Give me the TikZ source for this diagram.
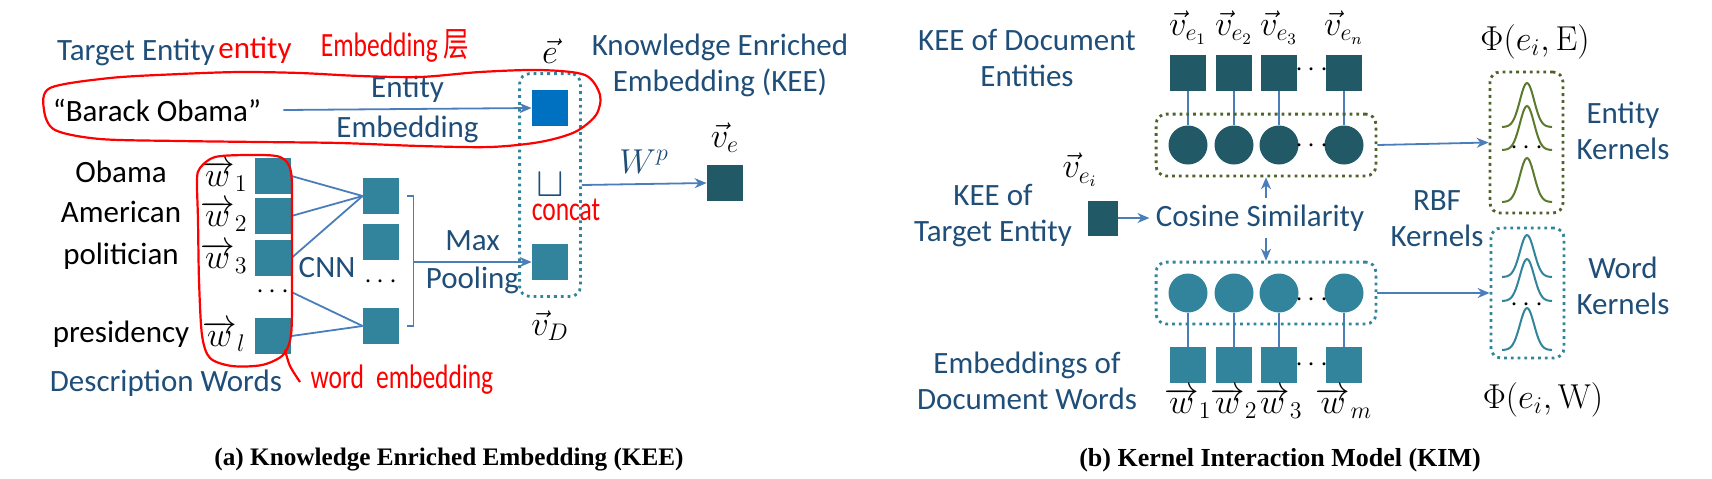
\documentclass[tikz,border=0pt]{standalone}
\usepackage[no-math]{fontspec}
\setmainfont{Carlito}
\newfontfamily\capfont{Liberation Serif}
\newfontfamily\cjk{Noto Sans CJK SC}
\usetikzlibrary{positioning,fit,arrows.meta}

\definecolor{txtblue}{HTML}{1F4E79}
\definecolor{lnblue}{HTML}{4A7EBB}
\definecolor{wordteal}{HTML}{31849B}
\definecolor{entteal}{HTML}{215967}
\definecolor{entblue}{HTML}{0070C0}
\definecolor{kolive}{HTML}{4F6228}
\definecolor{kcurve}{HTML}{5B7A2E}
\newcommand{\wvec}[1]{{\overrightarrow{w}}{\vphantom{w}}_{#1}}

\begin{document}
\begin{tikzpicture}[x=0.5pt, y=-0.5pt, >={Stealth[length=6pt, width=5pt]},
  every node/.style={font=\fontsize{15.5}{18}\selectfont, inner sep=0pt},
  lbl/.style={text=txtblue, align=center},
  vlab/.style={font=\fontsize{17}{18}\selectfont},
  sq/.style={fill=#1, minimum size=18pt},
  ball/.style={circle, fill=#1, minimum size=19.5pt},
  conn/.style={draw=lnblue, line width=0.9pt},
  dotbox/.style={draw=#1, line width=1.4pt, dash pattern=on 1.4pt off 2pt, rounded corners=5pt},
  hand/.style={text=red, font=\fontsize{17}{18}\selectfont, xscale=0.75, transform shape},
  scrawl/.style={draw=red, line width=1.1pt}]
\useasboundingbox (0,0) rectangle (1712,478);

% (a)
\node[lbl] (tgt) at (136,52) {Target Entity};
\node[text=red] (entred) at (255,50) {entity};
\node[hand] (embred) at (395,46) {Embedding {\cjk 层}};
\node (obama) at (157,110) {“Barack Obama”};
\node[sq=entblue] (e) at (550,108) {};
\node[vlab, above=13pt of e] (elab) {$\vec{e}$};
\draw[conn,->] ([xshift=11pt]obama.east) -- (e.west)
  node[lbl, midway, above=3pt] {Entity} node[lbl, midway, below=3pt] {Embedding};

\foreach \y/\n/\s/\t in {176/1/1/Obama, 216/2/2/American, 258/3/3/politician, 336/4/l/presidency}{
  \node[sq=wordteal] (w\n) at (273,\y) {};
  \node[vlab] (wlab\n) at (224,\y) {$\wvec{\s}$};
  \node[anchor=base] (word\n) at (121,\y+6) {\t};
}
\node (wdots) at (273,292) {$\cdots$};
\foreach \y/\n in {196/1, 242/2, 326/3}
  \node[sq=wordteal] (c\n) at (381,\y) {};
\node (cdots) at (381,282) {$\cdots$};
\foreach \n in {1,2,3} \draw[conn] (w\n.east) -- (c1.west);
\draw[conn] (w3.east |- wdots) -- (c3.west);
\draw[conn] (w4.east) -- (c3.west);
\node[lbl] (cnn) at (327,268) {CNN};
\draw[conn] ([xshift=4pt]c1.east) -| ([xshift=7pt]c3.east) -- ([xshift=4pt]c3.east);

\node[sq=wordteal] (vd) at (550,262) {};
\draw[conn,->] ([xshift=7pt]c1.east |- vd.west) -- (vd.west)
  node[lbl, midway, above=5pt] {Max} node[lbl, midway, below=2pt] {Pooling};
\node[vlab, below=15pt of vd] (vdlab) {$\vec{v}_D$};
\node[dotbox=wordteal, fit=(e)(vd), inner xsep=6pt, inner ysep=8pt] (cat) {};
\node[text=txtblue, font=\fontsize{20}{20}\selectfont] (cup) at (cat.center) {$\sqcup$};
\node[sq=entteal] (ve) at (725,183) {};
\draw[conn,->] (cat.east) -- (ve.west) node[vlab, midway, above=5pt, text=txtblue] {$W^p$};
\node[vlab, above=6pt of ve] (velab) {$\vec{v}_e$};
\node[lbl] (kee) at (720,65) {Knowledge Enriched\\Embedding (KEE)};
\node[lbl] (desc) at (166,383) {Description Words};

\node[hand] (catred) at (566,210) {concat};
\node[hand] (wordred) at (402,380) {word\hspace{8pt}embedding};
\draw[scrawl] plot[smooth cycle] coordinates {(50,88) (110,78) (180,74) (240,72) (300,73) (360,76) (420,77) (480,72) (540,70) (585,75) (600,95) (596,115) (575,132) (540,142) (490,147) (420,146) (340,143) (260,142) (180,141) (100,139) (55,130) (44,110)};
\draw[scrawl] plot[smooth cycle] coordinates {(200,168) (215,157) (250,155) (280,157) (291,172) (292,220) (292,290) (291,335) (283,355) (262,365) (232,366) (210,358) (202,335) (199,280) (198,220) (197,180)};
\draw[scrawl] plot[smooth] coordinates {(285,350) (290,366) (300,382)};

\node[font=\capfont\bfseries\fontsize{12.6}{15}\selectfont] (capa) at (449,460) {(a) Knowledge Enriched Embedding (KEE)};

% (b)
\node[lbl] (docent) at (1027,58) {KEE of Document\\Entities};
\foreach \x/\n/\e/\w in {1188/1/1/1, 1234/2/2/2, 1279/3/3/3, 1344/4/n/m}{
  \node[sq=entteal] (dent\n) at (\x,73) {};
  \node[vlab, above=5pt of dent\n] (dentlab\n) {$\vec{v}_{e_{\e}}$};
  \node[ball=entteal] (dball\n) at (\x,145) {};
  \draw[conn] (dent\n) -- (dball\n);
  \node[ball=wordteal] (wball\n) at (\x,293) {};
  \node[sq=wordteal] (dword\n) at (\x,365) {};
  \node[vlab, below=2pt of dword\n] (dwordlab\n) {$\wvec{\w}$};
  \draw[conn] (wball\n) -- (dword\n);
}
\foreach \y in {70,146,300,365}
  \node (dots\y) at (1312,\y) {$\cdots$};
\node[dotbox=kolive, fit=(dball1)(dball4), inner xsep=6pt, inner ysep=5.5pt] (entbox) {};
\node[dotbox=wordteal, fit=(wball1)(wball4), inner xsep=6pt, inner ysep=5.5pt] (wordbox) {};

\node[lbl, inner sep=3pt] (cos) at (1260,218) {Cosine Similarity};
\draw[conn,->] ([xshift=3pt]cos.north) -- ([xshift=3pt]cos.north |- entbox.south);
\draw[conn,->] ([xshift=3pt]cos.south) -- ([xshift=3pt]cos.south |- wordbox.north);
\node[lbl] (tgtkee) at (993,216) {KEE of\\Target Entity};
\node[sq=entteal, minimum width=15pt, minimum height=17.5pt] (vei) at (1103,218) {};
\node[vlab] (veilab) at (1080,170) {$\vec{v}_{e_i}$};
\draw[conn,->] (vei.east) -- (cos.west);
\node[lbl] (docword) at (1027,381) {Embeddings of\\Document Words};

\node[dotbox=kolive, minimum width=36.5pt, minimum height=70.5pt] (ekbox) at (1526.5,142.5) {};
\node[dotbox=wordteal, minimum width=36.5pt, minimum height=65pt] (wkbox) at (1527.5,293) {};
\draw[conn,->] (entbox.east) -- (ekbox.west);
\draw[conn,->] (wordbox.east) -- (wkbox.west);
\foreach \b in {127,150,202}
  \draw[kcurve, line width=1pt] plot[domain=-25:25, samples=41] ({1527+\x},{\b-44*exp(-(\x/10)^2)});
\foreach \b in {277,301,350}
  \draw[wordteal, line width=1pt] plot[domain=-25:25, samples=41] ({1527+\x},{\b-42*exp(-(\x/10)^2)});
\node (ekdots) at (1527,148) {$\cdots$};
\node (wkdots) at (1527,305) {$\cdots$};
\node[vlab] (phie) at (1535,42) {$\Phi(e_i,\mathrm{E})$};
\node[vlab] (phiw) at (1543,400) {$\Phi(e_i,\mathrm{W})$};
\node[lbl] (entk) at (1623,131) {Entity\\Kernels};
\node[lbl] (wordk) at (1623,286) {Word\\Kernels};
\node[lbl] (rbf) at (1437,219) {RBF\\Kernels};

\node[font=\capfont\bfseries\fontsize{13}{15}\selectfont] (capb) at (1280,460) {(b) Kernel Interaction Model (KIM)};
\end{tikzpicture}
\end{document}
